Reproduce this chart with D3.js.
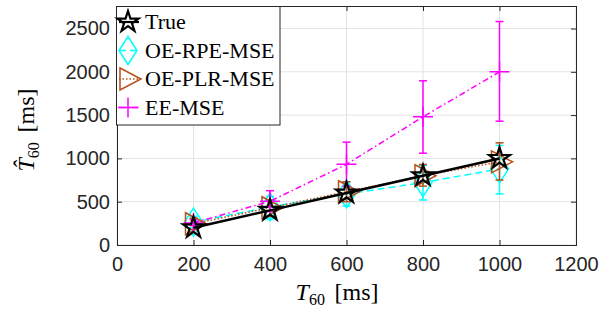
<!DOCTYPE html>
<html><head><meta charset="utf-8">
<script src="https://cdn.jsdelivr.net/npm/d3@7"></script>
<style>body{margin:0;background:#fff}svg{display:block}</style>
</head><body>
<svg id="c" width="600" height="321"></svg>
<script>
const xVals = [200, 400, 600, 800, 1000];
const trueVals = [200, 400, 600, 800, 1000];
const rpeMean = [265, 440, 590, 720, 880];
const rpeLo = [200, 300, 450, 520, 590];
const rpeHi = [330, 560, 730, 920, 1150];
const plrMean = [245, 430, 615, 800, 960];
const plrLo = [180, 330, 500, 680, 750];
const plrHi = [310, 520, 730, 930, 1180];
const eeMean = [255, 505, 932, 1480, 2000];
const eeLo = [225, 385, 680, 1060, 1430];
const eeHi = [290, 627, 1188, 1896, 2581];
const xTicks = [0, 200, 400, 600, 800, 1000, 1200];
const yTicks = [0, 500, 1000, 1500, 2000, 2500];
const legendLabels = ["True", "OE-RPE-MSE", "OE-PLR-MSE", "EE-MSE"];

const L = 117, R = 576, T = 6, B = 245;
const svg = d3.select("#c");
const x = d3.scaleLinear().domain([0, 1200]).range([L, R]);
const y = d3.scaleLinear().domain([0, 2760]).range([B, T]);
const fmt = d3.format("d");

// grid
const g = svg.append("g");
g.selectAll(".gx").data(xTicks).enter().append("line")
  .attr("x1", d => x(d)).attr("x2", d => x(d)).attr("y1", T).attr("y2", B)
  .attr("stroke", "#e3e3e3").attr("stroke-width", 1);
g.selectAll(".gy").data(yTicks).enter().append("line")
  .attr("x1", L).attr("x2", R).attr("y1", d => y(d)).attr("y2", d => y(d))
  .attr("stroke", "#e3e3e3").attr("stroke-width", 1);

// axes
const ax = svg.append("g").attr("transform", `translate(0,${B})`)
  .call(d3.axisBottom(x).tickValues(xTicks).tickSize(-5).tickPadding(12).tickFormat(fmt));
const ay = svg.append("g").attr("transform", `translate(${L},0)`)
  .call(d3.axisLeft(y).tickValues(yTicks).tickSize(-5).tickPadding(7).tickFormat(fmt));
const axT = svg.append("g").attr("transform", `translate(0,${T})`)
  .call(d3.axisTop(x).tickValues(xTicks).tickSize(-5).tickFormat(""));
const ayR = svg.append("g").attr("transform", `translate(${R},0)`)
  .call(d3.axisRight(y).tickValues(yTicks).tickSize(-5).tickFormat(""));
[ax, ay, axT, ayR].forEach(a => {
  a.select(".domain").attr("stroke", "#262626").attr("stroke-width", 1);
  a.selectAll(".tick line").attr("stroke", "#262626");
  a.selectAll("text").attr("fill", "#262626")
    .style("font-family", "Liberation Sans, Arial, sans-serif").style("font-size", "20px");
});

const series = [
  {name: "rpe", color: "#00ffff", mean: rpeMean, lo: rpeLo, hi: rpeHi, dash: "7,4", w: 1.5, marker: "diamond"},
  {name: "plr", color: "#b5501a", mean: plrMean, lo: plrLo, hi: plrHi, dash: "1.5,2", w: 1.5, marker: "tri"},
  {name: "ee", color: "#ff00ff", mean: eeMean, lo: eeLo, hi: eeHi, dash: "6,3,1.5,3", w: 1.5, marker: "plus"},
];

function starPath(r) {
  const pts = [];
  const ri = r * 0.382;
  for (let i = 0; i < 10; i++) {
    const a = -Math.PI / 2 + i * Math.PI / 5;
    const rr = i % 2 ? ri : r;
    pts.push([rr * Math.cos(a), rr * Math.sin(a)]);
  }
  return "M" + pts.map(p => p.join(",")).join("L") + "Z";
}
function markerPath(type) {
  if (type === "diamond") return "M0,-14L9,0L0,14L-9,0Z";
  if (type === "tri") return "M-8,-11L13,0L-8,11Z";
  if (type === "plus") return "M-10,0L10,0M0,-10L0,10";
  if (type === "star") return starPath(11);
}

const line = d3.line().x(d => x(d[0])).y(d => y(d[1]));

// draw series: error bars, lines, markers
series.forEach(s => {
  const sg = svg.append("g");
  xVals.forEach((xv, i) => {
    sg.append("line").attr("x1", x(xv)).attr("x2", x(xv)).attr("y1", y(s.lo[i])).attr("y2", y(s.hi[i]))
      .attr("stroke", s.color).attr("stroke-width", 1.5);
    [s.lo[i], s.hi[i]].forEach(v => sg.append("line").attr("x1", x(xv) - 4).attr("x2", x(xv) + 4)
      .attr("y1", y(v)).attr("y2", y(v)).attr("stroke", s.color).attr("stroke-width", 1.5));
  });
  sg.append("path").attr("d", line(xVals.map((xv, i) => [xv, s.mean[i]])))
    .attr("fill", "none").attr("stroke", s.color).attr("stroke-width", s.w).attr("stroke-dasharray", s.dash);
  xVals.forEach((xv, i) => {
    sg.append("path").attr("d", markerPath(s.marker))
      .attr("transform", `translate(${x(xv)},${y(s.mean[i])})`)
      .attr("fill", "none").attr("stroke", s.color).attr("stroke-width", 1.5);
  });
});

// true series
const tg = svg.append("g");
tg.append("path").attr("d", line(xVals.map((xv, i) => [xv, trueVals[i]])))
  .attr("fill", "none").attr("stroke", "#000").attr("stroke-width", 2.5);
xVals.forEach((xv, i) => {
  tg.append("path").attr("d", markerPath("star"))
    .attr("transform", `translate(${x(xv)},${y(trueVals[i])})`)
    .attr("fill", "none").attr("stroke", "#000").attr("stroke-width", 2.2);
});

// legend
const lg = svg.append("g");
lg.append("rect").attr("x", 116.5).attr("y", 6.5).attr("width", 163.5).attr("height", 118.5)
  .attr("fill", "#fff").attr("stroke", "#262626").attr("stroke-width", 1);
const legendItems = [
  {color: "#000", marker: "star", dash: null, w: 2.2},
  {color: series[0].color, marker: "diamond", dash: series[0].dash, w: 1.5},
  {color: series[1].color, marker: "tri", dash: series[1].dash, w: 1.5},
  {color: series[2].color, marker: "plus", dash: series[2].dash, w: 1.5},
];
legendItems.forEach((it, i) => {
  const cy = 22 + i * 28.5;
  const mx = 128;
  lg.append("line").attr("x1", 119).attr("x2", 139).attr("y1", cy).attr("y2", cy)
    .attr("stroke", it.color).attr("stroke-width", it.w).attr("stroke-dasharray", it.dash);
  lg.append("path").attr("d", markerPath(it.marker)).attr("transform", `translate(${mx},${cy})`)
    .attr("fill", "none").attr("stroke", it.color).attr("stroke-width", it.w);
  lg.append("text").attr("x", 145).attr("y", cy + 7).text(legendLabels[i])
    .attr("fill", "#000").style("font-family", "Liberation Serif, Times New Roman, serif").style("font-size", "22px");
});

// axis labels
const xl = svg.append("text").attr("x", 337).attr("y", 300).attr("text-anchor", "middle")
  .style("font-family", "Liberation Serif, serif").style("font-size", "24px").attr("fill", "#000");
xl.append("tspan").style("font-style", "italic").text("T");
xl.append("tspan").attr("dy", 5).style("font-size", "16px").text("60");
xl.append("tspan").attr("dy", -5).text("\u2009\u2009[ms]");

const yl = svg.append("text").attr("transform", "translate(34,130) rotate(-90)").attr("text-anchor", "middle")
  .style("font-family", "Liberation Serif, serif").style("font-size", "24px").attr("fill", "#000");
yl.append("tspan").style("font-style", "italic").text("T\u0302");
yl.append("tspan").attr("dy", 5).style("font-size", "16px").text("60");
yl.append("tspan").attr("dy", -5).text("\u2009\u2009[ms]");
</script>
</body></html>
